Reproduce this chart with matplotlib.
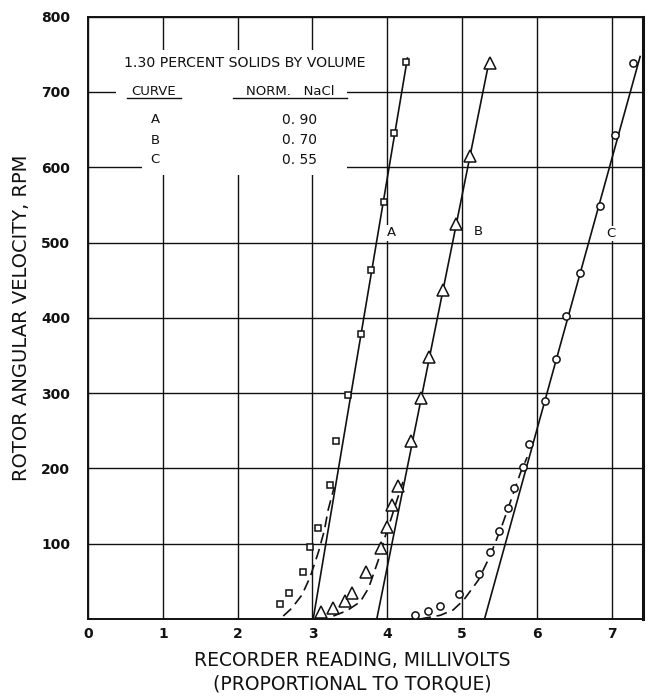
import matplotlib
matplotlib.use("Agg")
import matplotlib.pyplot as plt
from matplotlib.patches import Polygon

# recorder reading (millivolts) vs rotor speed (rpm)
# curve A, norm. NaCl 0.90 (squares)
a_mv = [2.56, 2.68, 2.87, 2.97, 3.07, 3.24, 3.32, 3.48, 3.65, 3.78, 3.95, 4.09, 4.25]
a_rpm = [20, 35, 63, 95, 121, 178, 236, 297, 378, 464, 554, 645, 740]
# curve B, norm. NaCl 0.70 (triangles)
b_mv = [3.12, 3.27, 3.43, 3.53, 3.72, 3.92, 4.00, 4.07, 4.15, 4.32, 4.45, 4.56, 4.74, 4.92, 5.11, 5.37]
b_rpm = [9, 15, 24, 35, 63, 94, 122, 151, 177, 237, 294, 348, 437, 524, 615, 739]
# curve C, norm. NaCl 0.55 (circles)
c_mv = [4.37, 4.54, 4.70, 4.96, 5.22, 5.37, 5.49, 5.62, 5.70, 5.81, 5.90, 6.11, 6.25, 6.39,
        6.57, 6.85, 7.05, 7.29]
c_rpm = [5, 11, 17, 33, 60, 89, 117, 148, 174, 202, 232, 290, 345, 402, 460, 549, 643, 738]

# straight-line fits (end points)
a_fit_mv = [3.01, 4.27]
a_fit_rpm = [0, 745]
b_fit_mv = [3.86, 5.37]
b_fit_rpm = [0, 745]
c_fit_mv = [5.30, 7.38]
c_fit_rpm = [0, 747]

# dashed low-speed curves
a_low_mv = [2.61, 2.72, 2.86, 2.97, 3.08, 3.16, 3.21, 3.29]
a_low_rpm = [4, 14, 32, 56, 89, 118, 145, 175]
b_low_mv = [3.28, 3.46, 3.64, 3.75, 3.81, 3.88, 3.97, 4.06, 4.13, 4.21]
b_low_rpm = [4, 11, 23, 41, 58, 78, 109, 136, 158, 182]
c_low_mv = [4.44, 4.71, 4.88, 5.02, 5.22, 5.37, 5.53, 5.64, 5.78, 5.87]
c_low_rpm = [0, 5, 12, 25, 52, 83, 123, 154, 194, 215]

curve_names = ["A", "B", "C"]
nacl_values = ["0. 90", "0. 70", "0. 55"]

x_ticks = [0, 1, 2, 3, 4, 5, 6, 7]
y_ticks = [100, 200, 300, 400, 500, 600, 700, 800]

ink = "#111111"

fig = plt.figure(figsize=(6.5, 6.96), dpi=100)
ax = fig.add_axes([0.1354, 0.1106, 0.854, 0.8655])
ax.set_xlim(0, 7.42)
ax.set_ylim(0, 800)
ax.set_xticks(x_ticks)
ax.set_yticks(y_ticks)
ax.set_axisbelow(True)
ax.grid(True, color=ink, linewidth=1.0)
ax.tick_params(length=0, pad=6, labelsize=10, colors=ink)
for lbl in ax.get_xticklabels() + ax.get_yticklabels():
    lbl.set_fontweight("bold")
ax.tick_params(axis="y", pad=13)
for side, sp in ax.spines.items():
    sp.set_color(ink)
    sp.set_linewidth(1.4)
ax.spines["right"].set_linewidth(2.2)

# blank patch behind the key text
ax.add_patch(Polygon([(0.37, 756), (3.46, 756), (3.46, 590), (0.72, 590), (0.72, 640), (0.37, 640)],
                     closed=True, facecolor="white", edgecolor="none", zorder=1))

line_kw = dict(color=ink, linewidth=1.2, zorder=2)
dash_kw = dict(color=ink, linewidth=1.2, dashes=(6.5, 3.5), zorder=2)
ax.plot(a_fit_mv, a_fit_rpm, **line_kw)
ax.plot(b_fit_mv, b_fit_rpm, **line_kw)
ax.plot(c_fit_mv, c_fit_rpm, **line_kw)
ax.plot(a_low_mv, a_low_rpm, **dash_kw)
ax.plot(b_low_mv, b_low_rpm, **dash_kw)
ax.plot(c_low_mv, c_low_rpm, **dash_kw)

mk_kw = dict(linestyle="none", mfc="white", mec=ink, mew=1.1, zorder=3)
ax.plot(a_mv, a_rpm, marker="s", markersize=5, **mk_kw)
ax.plot(b_mv, b_rpm, marker="^", markersize=9, **mk_kw)
ax.plot(c_mv, c_rpm, marker="o", markersize=5.2, **mk_kw)

# curve letters
box = dict(facecolor="white", edgecolor="none", pad=1.0)
ax.text(4.06, 513, "A", ha="center", va="center", fontsize=9.5, color=ink, bbox=box, zorder=4)
ax.text(5.22, 514, "B", ha="center", va="center", fontsize=9.5, color=ink, bbox=box, zorder=4)
ax.text(6.99, 512, "C", ha="center", va="center", fontsize=9.5, color=ink, bbox=box, zorder=4)

# key
ax.text(2.10, 738, "1.30 PERCENT SOLIDS BY VOLUME", ha="center", va="center", fontsize=10.2,
        color=ink, zorder=4)
ax.text(0.88, 701, "CURVE", ha="center", va="center", fontsize=9.5, color=ink, zorder=4)
ax.text(2.70, 701, "NORM.   NaCl", ha="center", va="center", fontsize=9.5, color=ink, zorder=4)
ax.plot([0.52, 1.24], [692, 692], color=ink, linewidth=1.0, zorder=4)
ax.plot([1.94, 3.46], [692, 692], color=ink, linewidth=1.0, zorder=4)
for name, val, yy in zip(curve_names, nacl_values, [663, 636, 610]):
    ax.text(0.90, yy, name, ha="center", va="center", fontsize=9.5, color=ink, zorder=4)
    ax.text(2.83, yy, val, ha="center", va="center", fontsize=10, color=ink, zorder=4)

fig.text(22 / 650, 1 - 318 / 696, "ROTOR ANGULAR VELOCITY, RPM", rotation=90,
         ha="center", va="center", fontsize=14, color=ink)
fig.text(352 / 650, 1 - 660 / 696, "RECORDER READING, MILLIVOLTS", ha="center", va="center",
         fontsize=13.5, color=ink)
fig.text(352 / 650, 1 - 684 / 696, "(PROPORTIONAL TO TORQUE)", ha="center", va="center",
         fontsize=13.5, color=ink)

fig.savefig("out.png", dpi=100)
plt.close(fig)
